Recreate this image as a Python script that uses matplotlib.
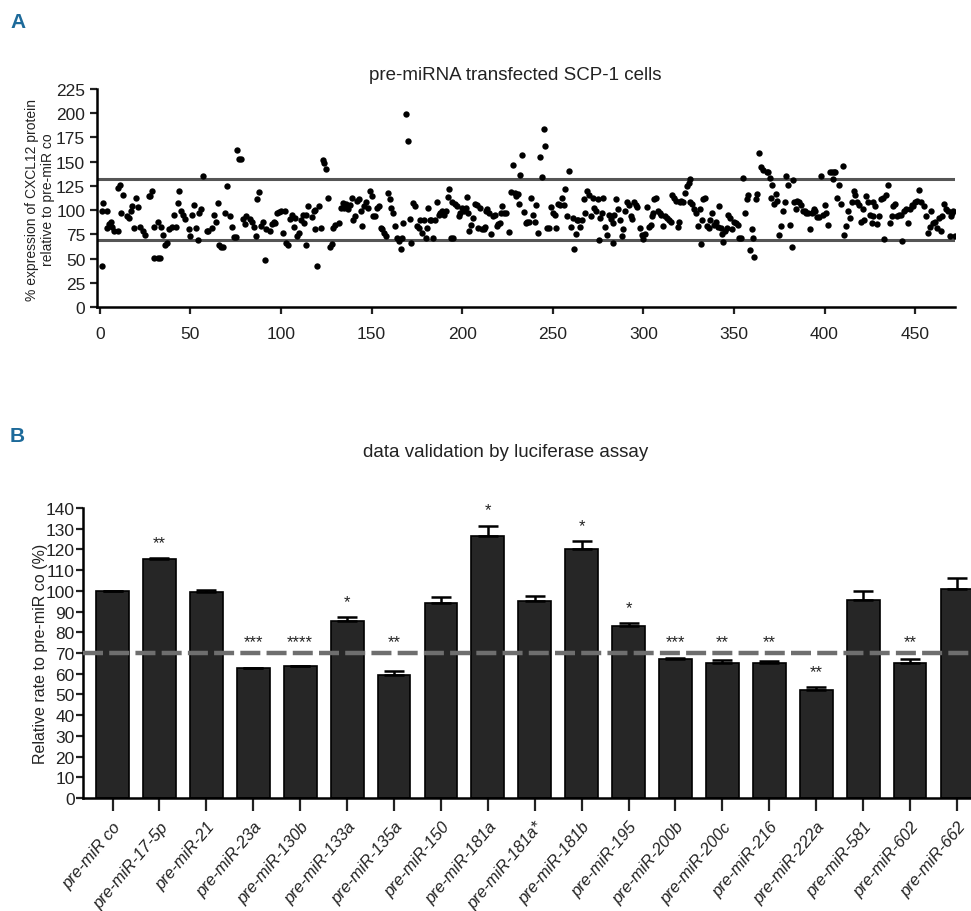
import matplotlib
matplotlib.use("Agg")
import matplotlib.pyplot as plt
import numpy as np

plt.rcParams['font.family'] = ['Liberation Sans', 'DejaVu Sans']

# ---------------- Panel A data (screen index, % expression) ----------------
scatter_idx = [
    1, 1, 2, 4, 4, 5, 6, 7, 8, 10, 10, 11, 12, 13, 15, 16, 17, 18, 19, 20,
    21, 22, 24, 25, 27, 28, 29, 30, 30, 32, 33, 32, 34, 35, 36, 37, 38, 40, 41, 42,
    43, 44, 45, 46, 47, 49, 50, 51, 52, 53, 54, 55, 56, 57, 59, 60, 62, 63, 64, 65,
    66, 67, 68, 69, 70, 72, 73, 74, 75, 76, 77, 78, 79, 80, 81, 83, 84, 85, 86, 87,
    88, 89, 90, 91, 92, 94, 95, 96, 97, 98, 99, 100, 101, 102, 103, 104, 105, 106, 107, 108,
    109, 110, 111, 112, 113, 114, 114, 115, 117, 118, 119, 120, 119, 121,
    122, 123, 124, 125, 126, 127, 128, 129, 130, 132, 133, 134, 135, 136, 137, 138, 139, 140, 141, 142,
    143, 144, 145, 146, 147, 148, 149, 150, 151, 152, 153, 154, 155, 156, 157, 158, 159, 160, 161, 162,
    163, 164, 165, 166, 167, 167.5, 169, 170, 171, 172, 173, 174, 175, 176, 177, 178, 179, 180, 180.5, 181,
    182, 183, 184, 185, 186, 187, 188, 189, 190, 191, 192, 193, 194, 195, 194.5, 196, 197, 198, 199, 200,
    201, 202, 202.5, 203, 204, 205, 206, 207, 208, 209, 210, 211, 212, 212.5, 213, 214, 215, 216, 217, 218,
    219, 220, 221, 221.5, 222, 223, 224, 226, 227, 228, 229, 230, 231, 231.5, 232, 233, 234, 235, 236, 237,
    238, 239, 240, 241, 242, 243, 244, 245, 246, 247, 248, 249, 250, 251, 252, 253, 254, 255, 256, 257,
    258, 259, 260, 261, 262, 263, 263.5, 264, 265, 266, 267, 268, 269, 270, 271, 272, 273, 274, 275, 275.5,
    276, 277, 278, 279, 280, 281, 282, 283, 283.5, 284, 285, 286, 287, 288, 289, 290, 291, 292, 293, 294,
    295, 296, 296.5, 298,
    299, 300, 301, 302, 303, 304, 305, 305.5, 306, 307, 308, 309, 310, 311, 312, 313, 314, 315, 316, 317,
    318, 319, 319.5, 320, 321, 322, 323, 324, 325, 325.5, 326, 327, 328, 329, 330, 331, 332, 332.5, 333, 334,
    335, 336, 337, 338, 339, 340, 341, 342, 343, 343.5, 344, 345, 346, 347, 348, 349, 350, 351, 352, 353,
    354, 355, 356, 357, 358, 359, 360, 360.5, 361, 362, 363, 364, 365, 366, 368, 369, 370, 370.5, 371, 372,
    373, 374, 375, 376, 377, 378, 379, 380, 381, 382, 382.5, 383, 384, 385, 386, 387, 388, 389, 390, 391,
    392, 393, 393.5, 394, 395, 396, 397, 398, 399, 400, 401, 402, 403, 404, 404.5, 405, 406, 407, 408, 409,
    410, 411, 412, 413, 414, 415, 416, 417, 418, 419, 420, 421, 422, 423, 424, 425, 426, 426.5, 427, 428,
    429, 430, 431, 432, 433, 434, 435, 436, 437, 438, 439, 440, 441, 442, 443, 444, 445, 446, 447, 448,
    449, 450, 451, 452, 453, 455, 456, 457, 458, 459, 460, 461, 462, 463, 464, 465, 466, 467, 468, 469,
    470, 470.5, 471, 472,
]
scatter_pct = [
    42, 99, 107, 99, 82, 86, 88, 83, 78, 78, 123, 126, 97, 116, 94, 92, 99, 104, 82, 113,
    103, 83, 78, 74, 115, 115, 120, 83, 51, 51, 51, 88, 83, 74, 64, 66, 80, 83, 95, 83,
    107, 120, 99, 95, 91, 80, 73, 95, 105, 82, 69, 97, 101, 135, 78, 78, 82, 95, 88, 107,
    64, 62, 62, 97, 125, 94, 83, 72, 72, 162, 153, 153, 91, 86, 94, 91, 88, 83, 73, 111,
    119, 84, 88, 48, 80, 78, 86, 88, 87, 97, 98, 99, 76, 99, 66, 64, 91, 95, 83, 92,
    73, 76, 90, 95, 87, 95, 64, 104, 93, 99, 100, 42, 80, 104,
    82, 152, 149, 142, 112, 62, 65, 82, 85, 87, 102, 107, 102, 106, 101, 105, 113, 90, 94, 109,
    111, 99, 84, 104, 108, 102, 120, 115, 94, 94, 102, 104, 82, 80, 76, 73, 118, 111, 102, 97,
    84, 71, 68, 60, 71, 87, 199, 171, 91, 66, 107, 104, 84, 82, 90, 76, 90, 71, 82, 102,
    90, 90, 71, 90, 108, 95, 97, 99, 95, 99, 114, 122, 71, 71, 108, 106, 104, 94, 97, 102,
    99, 102, 114, 97, 78, 85, 92, 106, 105, 82, 102, 80, 80, 83, 99, 101, 97, 75, 94, 95,
    84, 86, 87, 97, 104, 97, 97, 77, 119, 147, 118, 115, 117, 106, 136, 157, 98, 87, 88, 88,
    113, 95, 88, 105, 76, 155, 134, 184, 166, 82, 82, 103, 97, 95, 82, 106, 105, 112, 105, 122,
    94, 140, 83, 92, 60, 75, 90, 90, 83, 90, 111, 97, 120, 116, 94, 113, 102, 99, 111, 69,
    92, 97, 112, 83, 74, 95, 91, 66, 87, 95, 111, 101, 90, 73, 80, 99, 108, 105, 94, 91,
    108, 105, 103, 82,
    74, 70, 75, 103, 83, 85, 94, 97, 111, 113, 99, 97, 95, 84, 94, 92, 90, 88, 116, 112,
    109, 83, 88, 108, 109, 108, 118, 125, 128, 132, 108, 106, 101, 97, 84, 101, 65, 90, 111, 113,
    84, 82, 90, 97, 85, 88, 83, 104, 82, 75, 67, 78, 82, 95, 92, 80, 88, 87, 85, 71,
    71, 133, 97, 111, 116, 59, 80, 71, 52, 111, 117, 159, 144, 141, 139, 139, 133, 113, 126, 106,
    117, 109, 74, 84, 99, 108, 135, 126, 85, 62, 131, 108, 101, 109, 108, 105, 99, 99, 97, 97,
    81, 97, 98, 101, 99, 93, 93, 135, 95, 105, 97, 85, 139, 139, 132, 139, 139, 113, 126, 106,
    146, 74, 84, 99, 92, 108, 120, 116, 108, 105, 88, 101, 90, 115, 108, 95, 87, 94, 108, 104,
    86, 94, 111, 113, 70, 116, 126, 87, 94, 104, 106, 94, 95, 95, 68, 99, 101, 87, 101, 105,
    104, 108, 109, 121, 108, 104, 94, 76, 83, 99, 87, 88, 82, 92, 78, 94, 106, 101, 99, 73,
    94, 97, 99, 73,
]
upper_limit = 132
lower_limit = 69

# ---------------- Panel B data ----------------
mirnas = ["pre-miR co", "pre-miR-17-5p", "pre-miR-21", "pre-miR-23a", "pre-miR-130b",
          "pre-miR-133a", "pre-miR-135a", "pre-miR-150", "pre-miR-181a", "pre-miR-181a*",
          "pre-miR-181b", "pre-miR-195", "pre-miR-200b", "pre-miR-200c", "pre-miR-216",
          "pre-miR-222a", "pre-miR-581", "pre-miR-602", "pre-miR-662"]
rel_rate = [100, 115.5, 99.5, 62.7, 63.5, 85.5, 59.5, 94, 126.5, 95.3,
            120, 82.8, 67, 65.3, 65.3, 52, 95.5, 65.3, 101]
rel_err = [0, 0.4, 1, 0.3, 0.4, 2, 2, 3, 5, 2,
           4, 1.6, 0.7, 1.5, 1, 1.5, 4.5, 1.8, 5]
signif = ["", "**", "", "***", "****", "*", "**", "", "*", "",
          "*", "*", "***", "**", "**", "**", "", "**", ""]
threshold = 70

W, H = 971, 912
fig = plt.figure(figsize=(W / 100, H / 100), dpi=100)
blue = "#1d6a9a"

def fx(px):
    return px / W

def fy(py):
    return 1 - py / H

# ---------------- Panel A ----------------
fig.text(fx(10), fy(22), "A", color=blue, fontsize=15, fontweight="bold", va="center", ha="left")
axA = fig.add_axes([fx(97), fy(308), fx(955) - fx(97), fy(90) - fy(308)])
axA.scatter(scatter_idx, scatter_pct, s=21, color="black", zorder=3, linewidths=0)
axA.axhline(upper_limit, color="#555555", lw=2.2, zorder=2)
axA.axhline(lower_limit, color="#555555", lw=2.2, zorder=2)
axA.set_xlim(-1.5, 472)
axA.set_ylim(0, 225)
axA.set_yticks(np.arange(0, 226, 25))
axA.set_xticks(np.arange(0, 451, 50))
for s in ["top", "right"]:
    axA.spines[s].set_visible(False)
for s in ["left", "bottom"]:
    axA.spines[s].set_linewidth(1.8)
axA.tick_params(axis="both", direction="out", length=5, width=1.6, labelsize=12.5, colors="#222222")
axA.tick_params(axis="x", pad=9)
fig.text(fx(515), fy(75), "pre-miRNA transfected SCP-1 cells", fontsize=13.5, ha="center", va="center", color="#222222")
fig.text(fx(40), fy(200), "% expression of CXCL12 protein\nrelative to pre-miR co", fontsize=10,
         rotation=90, ha="center", va="center", color="#222222", linespacing=1.1)

# ---------------- Panel B ----------------
fig.text(fx(10), fy(437), "B", color=blue, fontsize=15, fontweight="bold", va="center", ha="left")
fig.text(fx(506), fy(453), "data validation by luciferase assay", fontsize=13.5, ha="center", va="center", color="#222222")
axB = fig.add_axes([fx(83), fy(799), 1 - fx(83), fy(509) - fy(799)])
x = np.arange(len(mirnas))
axB.bar(x, rel_rate, width=0.7, color="#262626", edgecolor="black", linewidth=1.2, zorder=2)
axB.errorbar(x, rel_rate, yerr=[np.zeros(len(x)), rel_err], fmt="none", ecolor="black",
             elinewidth=1.8, capsize=7, capthick=1.8, zorder=3)
axB.axhline(threshold, color="#6e6e6e", lw=3.2, dashes=(4.5, 1.4), zorder=4)
for xi, v, e, s in zip(x, rel_rate, rel_err, signif):
    if not s:
        continue
    y = v + e + 7.5
    if v < threshold and y > threshold - 4:
        y = max(y, 75.5)
    axB.text(xi, y, s, ha="center", va="center", fontsize=12, color="#222222", zorder=5)
axB.set_xlim(-0.63, 18.3)
axB.set_ylim(0, 140)
axB.set_yticks(np.arange(0, 141, 10))
axB.set_xticks(x)
axB.set_xticklabels(mirnas, rotation=50, ha="right", rotation_mode="anchor",
                    fontstyle="italic", fontsize=12)
for s in ["top", "right"]:
    axB.spines[s].set_visible(False)
for s in ["left", "bottom"]:
    axB.spines[s].set_linewidth(1.8)
axB.tick_params(axis="y", direction="out", length=5, width=1.6, labelsize=12.5, colors="#222222", pad=1)
axB.tick_params(axis="x", direction="out", length=9, width=1.6, labelsize=12, colors="#222222", pad=6)
fig.text(fx(40), fy(654), "Relative rate to pre-miR co (%)", fontsize=11.5,
         rotation=90, ha="center", va="center", color="#222222")

fig.savefig("out.png", dpi=100)
